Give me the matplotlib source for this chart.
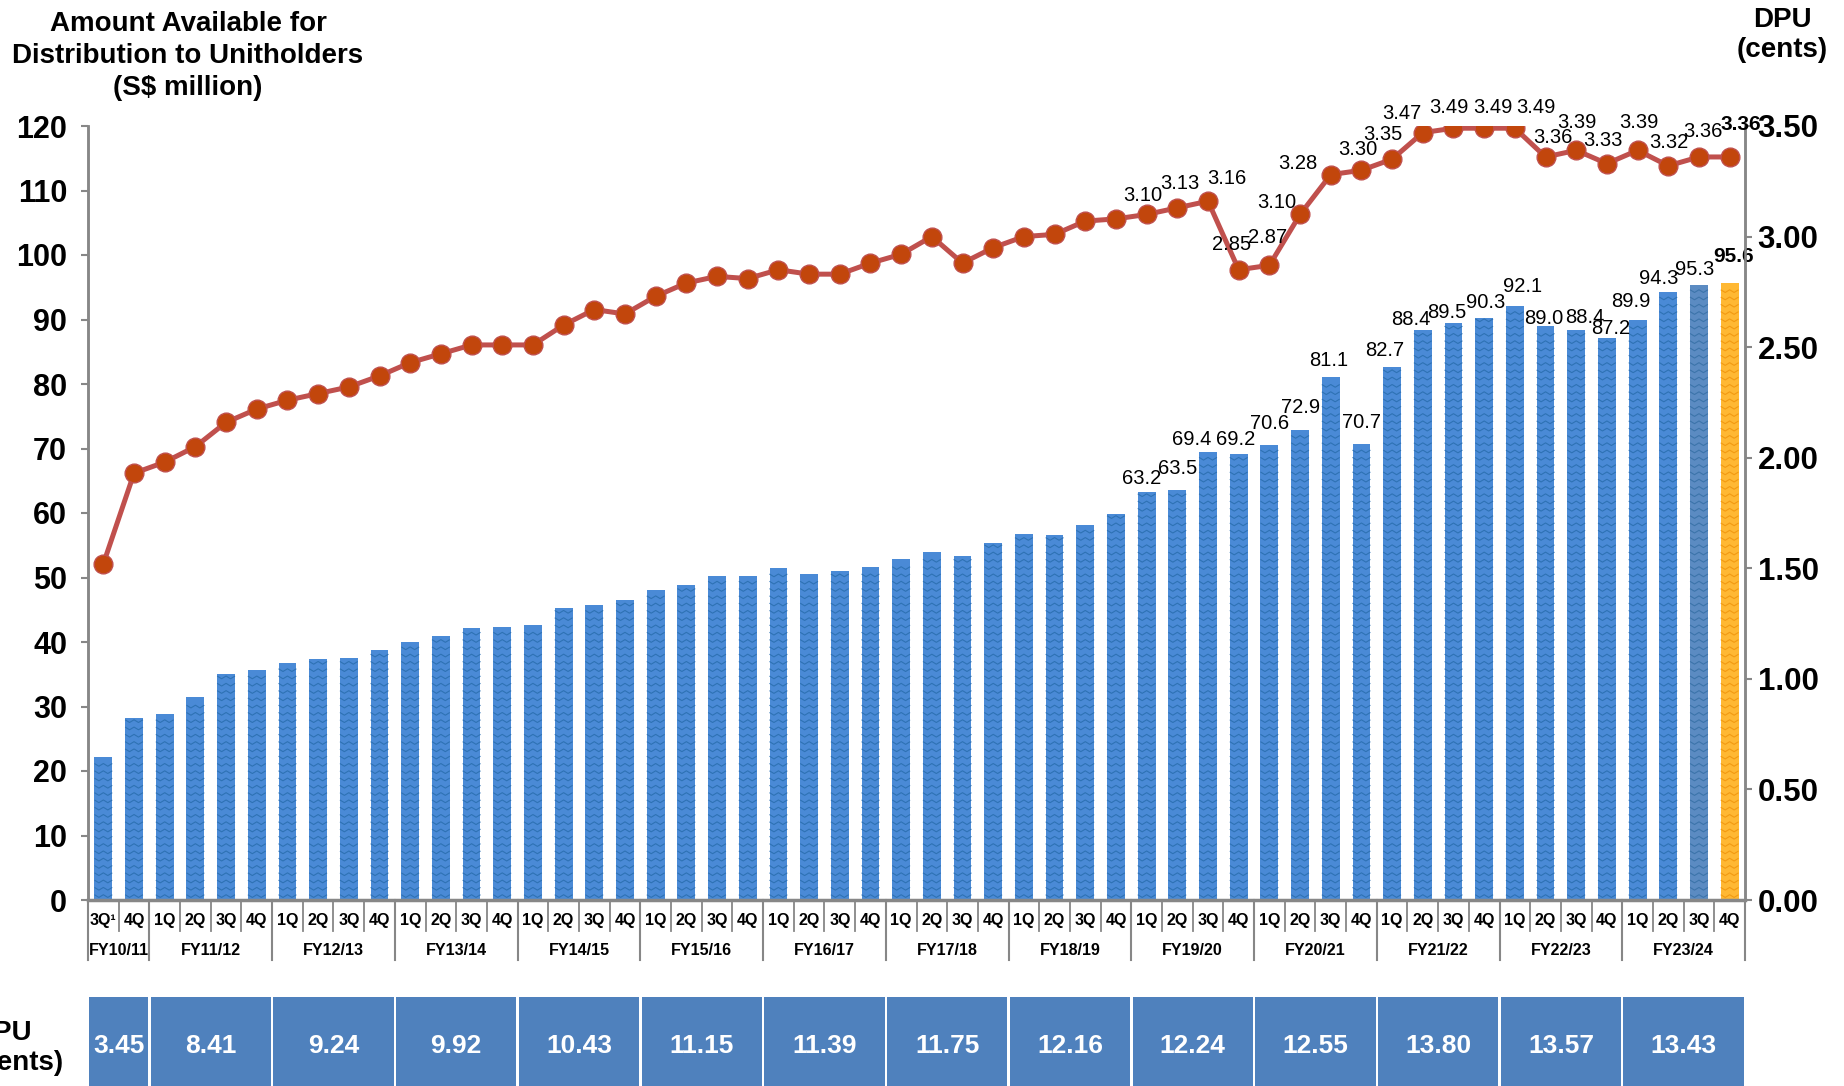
import numpy as np
import matplotlib
matplotlib.use("Agg")
import matplotlib.pyplot as plt
import matplotlib.transforms as mtransforms
from matplotlib.collections import LineCollection
from matplotlib.patches import Rectangle

plt.rcParams['font.family'] = ['Liberation Sans', 'DejaVu Sans']

# ---- data ----
fy_names = ['FY10/11', 'FY11/12', 'FY12/13', 'FY13/14', 'FY14/15', 'FY15/16', 'FY16/17',
            'FY17/18', 'FY18/19', 'FY19/20', 'FY20/21', 'FY21/22', 'FY22/23', 'FY23/24']
fy_quarters = [['3Q\u00b9', '4Q']] + [['1Q', '2Q', '3Q', '4Q']] * 13
fy_dpu_total = ['3.45', '8.41', '9.24', '9.92', '10.43', '11.15', '11.39',
                '11.75', '12.16', '12.24', '12.55', '13.80', '13.57', '13.43']

amount = [22.1, 28.2,
          28.9, 31.4, 35.0, 35.6,
          36.7, 37.3, 37.5, 38.8,
          40.0, 40.9, 42.1, 42.4,
          42.6, 45.2, 45.8, 46.5,
          48.1, 48.8, 50.2, 50.3,
          51.4, 50.5, 51.0, 51.7,
          52.8, 53.9, 53.4, 55.3,
          56.7, 56.6, 58.2, 59.8,
          63.2, 63.5, 69.4, 69.2,
          70.6, 72.9, 81.1, 70.7,
          82.7, 88.4, 89.5, 90.3,
          92.1, 89.0, 88.4, 87.2,
          89.9, 94.3, 95.3, 95.6]

dpu = [1.52, 1.93,
       1.98, 2.05, 2.16, 2.22,
       2.26, 2.29, 2.32, 2.37,
       2.43, 2.47, 2.51, 2.51,
       2.51, 2.60, 2.67, 2.65,
       2.73, 2.79, 2.82, 2.81,
       2.85, 2.83, 2.83, 2.88,
       2.92, 3.00, 2.88, 2.95,
       3.00, 3.01, 3.07, 3.08,
       3.10, 3.13, 3.16, 2.85,
       2.87, 3.10, 3.28, 3.30,
       3.35, 3.47, 3.49, 3.49,
       3.49, 3.36, 3.39, 3.33,
       3.39, 3.32, 3.36, 3.36]

first_label = 34  # labels shown from 1Q FY19/20 on

# label nudges in pixels (styling only)
bar_lbl_dx = [-5, 0, -16, -3, 0, 0, -2, 0, -7, -12, -7, 1, 8, -2, 9, 4, -7, -10, -4, 4]
bar_lbl_dy = [14, 22, 13, 14, 21, 22, 16, 21, 16, 10, 10, 15, 19, 7, 12, 9, 19, 13, 16, 27]
dpu_lbl_dx = [-4, 3, 19, -7, -2, -23, -33, -4, -9, -21, -5, 9, 21, 7, 1, -4, 1, 1, 4, 11]
dpu_lbl_dy = [19, 24, 23, 25, 28, 12, 11, 21, 25, 19, 21, 21, 21, 19, 28, 23, 28, 23, 25, 32]

# ---- figure ----
W, H = 1844, 1086
fig = plt.figure(figsize=(W / 100, H / 100), dpi=100)
ax = fig.add_axes([88 / W, 186 / H, (1745 - 88) / W, 774 / H])
ax2 = ax.twinx()

n = len(amount)
x = np.arange(n)
bw = 0.58

face = ['#4A8AD6'] * n
zig = ['#2E72B4'] * n
face[-2], zig[-2] = '#5B8BC2', '#3C74AA'
face[-1], zig[-1] = '#FFB833', '#F29A12'

ax.bar(x, amount, width=bw, color=face, linewidth=0, zorder=2)

# chevron texture on the bars
period, depth = 1.13, 0.42
segs, seg_cols = [], []
for xi, h, c in zip(x, amount, zig):
    xs = xi - bw / 2 + np.arange(5) * bw / 4
    yy = 0.4
    while yy + depth < h - 0.2:
        segs.append(np.column_stack([xs, yy + depth * np.array([1, 0, 1, 0, 1])]))
        seg_cols.append(c)
        yy += period
ax.add_collection(LineCollection(segs, colors=seg_cols, linewidths=0.8, zorder=3))

ax.set_xlim(-0.5, n - 0.5)
ax.set_ylim(0, 120)
ax.set_yticks(np.arange(0, 121, 10))
ax.set_xticks([])

ax2.plot(x, dpu, color='#C0504D', lw=3.6, zorder=4,
         marker='o', markersize=13.5, markerfacecolor='#C2460C', markeredgecolor='#C0504D', markeredgewidth=1)
ax2.set_ylim(0, 3.5)
ax2.set_yticks(np.arange(0, 3.51, 0.5))
ax2.set_yticklabels(['%.2f' % v for v in np.arange(0, 3.51, 0.5)])

for a in (ax, ax2):
    for s in a.spines.values():
        s.set_color('#878787')
        s.set_linewidth(1.8)
    a.spines['top'].set_visible(False)
ax.spines['bottom'].set_linewidth(2.5)
ax.tick_params(axis='y', length=5, width=1.5, color='#878787', pad=10,
               labelsize=22, labelcolor='black')
ax2.tick_params(axis='y', length=5, width=1.5, color='#878787', pad=4,
                labelsize=22.5, labelcolor='black')
for lab in ax.get_yticklabels() + ax2.get_yticklabels():
    lab.set_fontweight('bold')

# data labels
for k, i in enumerate(range(first_label, n)):
    last = i == n - 1
    ax.annotate('%.1f' % amount[i], (x[i], amount[i]), xytext=(bar_lbl_dx[k], bar_lbl_dy[k]),
                textcoords='offset pixels', ha='center', va='center',
                fontsize=15 if last else 14.5,
                fontweight='bold' if last else 'normal', zorder=5, annotation_clip=False)
    ax2.annotate('%.2f' % dpu[i], (x[i], dpu[i]), xytext=(dpu_lbl_dx[k], dpu_lbl_dy[k]),
                 textcoords='offset pixels', ha='center', va='center',
                 fontsize=15 if last else 14.5,
                 fontweight='bold' if last else 'normal', zorder=5, annotation_clip=False)

# category axis: quarters, fiscal years and the yearly DPU strip
tr = mtransforms.blended_transform_factory(ax.transData, ax.transAxes)
sep_col = '#878787'
start = -0.5
for name, quarters, tot in zip(fy_names, fy_quarters, fy_dpu_total):
    end = start + len(quarters)
    for q, lab in enumerate(quarters):
        ax.text(start + q + 0.5, -0.026, lab, transform=tr, ha='center', va='center',
                fontsize=11.5, fontweight='bold')
        if q > 0:
            ax.plot([start + q] * 2, [0, -0.04], transform=tr, color=sep_col, lw=1.3, clip_on=False)
    ax.plot([start] * 2, [0, -0.077], transform=tr, color=sep_col, lw=1.5, clip_on=False)
    ax.text((start + end) / 2, -0.0656, name, transform=tr, ha='center', va='center',
            fontsize=11.5, fontweight='bold')
    ax.add_patch(Rectangle((start + 0.04, -0.30), len(quarters) - 0.08, 0.30 - 0.1253,
                           transform=tr, facecolor='#4F81BD', edgecolor='none', clip_on=False))
    ax.text((start + end) / 2, -0.189, tot, transform=tr, ha='center', va='center',
            fontsize=19, fontweight='bold', color='white')
    start = end
ax.plot([start] * 2, [0, -0.077], transform=tr, color=sep_col, lw=1.5, clip_on=False)

# titles
fig.text(188 / W, 1 - 56 / H, 'Amount Available for\nDistribution to Unitholders\n(S$ million)',
         ha='center', va='center', fontsize=20, fontweight='bold', linespacing=1.32)
fig.text(1782 / W, 1 - 35 / H, 'DPU\n(cents)', ha='center', va='center',
         fontsize=20, fontweight='bold', linespacing=1.22)
fig.text(-27 / W, 1 - 1048 / H, 'DPU\n(cents)', ha='left', va='center',
         fontsize=20, fontweight='bold', linespacing=1.2)

fig.savefig('out.png', dpi=100)
